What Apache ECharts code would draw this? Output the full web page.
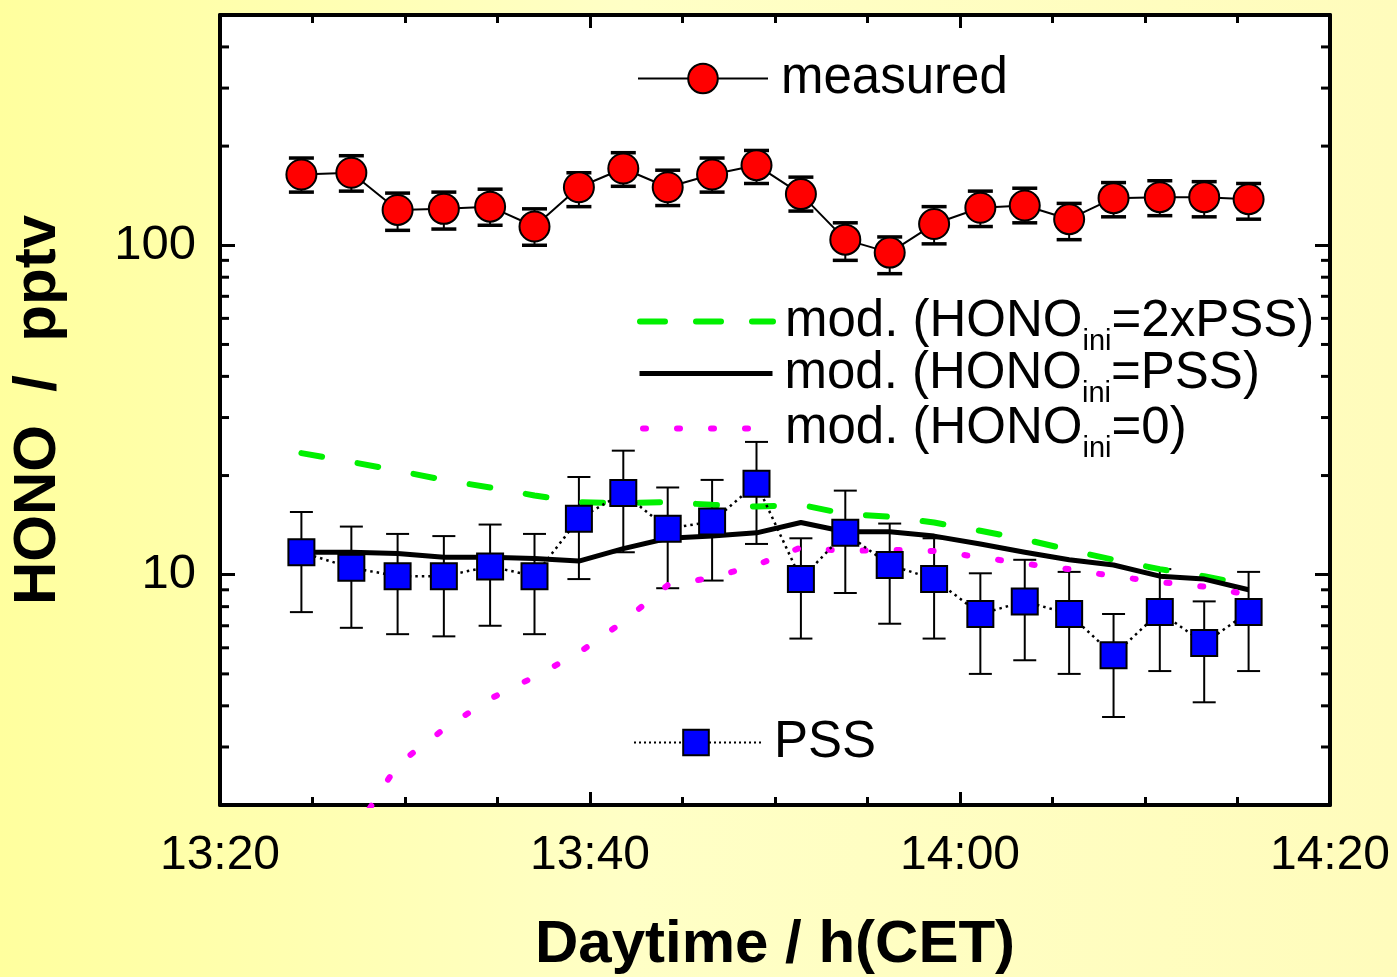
<!DOCTYPE html>
<html>
<head>
<meta charset="utf-8">
<script src="https://cdn.jsdelivr.net/npm/echarts@6/dist/echarts.min.js"></script>
<style>
html,body{margin:0;padding:0;}
#chart{width:1397px;height:977px;}
</style>
</head>
<body>
<div id="chart"></div>
<script>
// Time of each sample, minutes after midnight (800 = 13:20)
const times = [804.4, 807.1, 809.6, 812.1, 814.6, 817.0, 819.4, 821.8, 824.2, 826.6, 829.0,
               831.4, 833.8, 836.2, 838.6, 841.1, 843.5, 845.9, 848.3, 850.8, 853.2, 855.6];

// measured HONO (pptv) with error bar limits
const measured     = [164, 166, 128, 129, 131, 114, 150, 171, 150, 164, 175, 143, 104, 95, 116, 130, 132, 120, 139, 140, 140, 138];
const measuredLow  = [145, 146, 111, 112, 115, 100, 131, 151, 132, 145, 154, 127, 90, 82, 101, 114, 117, 104, 122, 123, 122, 120];
const measuredHigh = [184, 187, 144, 145, 148, 129, 166, 191, 169, 184, 194, 161, 117, 106, 131, 146, 149, 134, 155, 157, 156, 154];

// PSS with error bar limits
const pss     = [11.7, 10.5, 9.9, 9.9, 10.6, 9.9, 14.8, 17.7, 13.8, 14.5, 18.9, 9.7, 13.4, 10.7, 9.7, 7.6, 8.3, 7.6, 5.7, 7.7, 6.2, 7.7];
const pssLow  = [7.7, 6.9, 6.6, 6.5, 7.0, 6.6, 9.7, 11.7, 9.1, 9.6, 12.4, 6.4, 8.8, 7.1, 6.4, 5.0, 5.5, 5.0, 3.7, 5.1, 4.1, 5.1];
const pssHigh = [15.5, 14.0, 13.3, 13.1, 14.2, 13.3, 19.8, 23.8, 18.4, 19.4, 25.3, 12.9, 18.0, 14.3, 12.9, 10.1, 11.1, 10.2, 7.6, 10.4, 8.3, 10.2];

// model runs
const mod2xPSS = [23.4, 22.0, 20.7, 19.4, 18.4, 17.4, 16.6, 16.5, 16.6, 16.3, 16.1, 16.3, 15.3, 15.0, 14.4, 13.6, 12.8, 11.9, 11.1, 10.4, 9.9, 9.3];
const modPSS   = [11.7, 11.7, 11.6, 11.3, 11.3, 11.2, 11.0, 12.0, 12.9, 13.1, 13.4, 14.4, 13.5, 13.5, 13.1, 12.4, 11.7, 11.1, 10.7, 9.9, 9.7, 9.0];
const mod0     = [null, 1.6, 2.65, 3.4, 4.2, 4.9, 5.8, 7.2, 9.3, 9.8, 10.7, 12.1, 11.8, 11.9, 11.8, 11.3, 10.8, 10.4, 9.9, 9.5, 9.2, 8.7];

// axis settings / tick labels
const xMin = 800, xMax = 860, xStep = 20;
const yMin = 2, yMax = 500;
const yLabels = [10, 100];
const yMinorTicks = [3, 4, 5, 6, 7, 8, 9, 20, 30, 40, 50, 60, 70, 80, 90, 200, 300, 400];

const names = {
  measured: 'measured',
  pss: 'PSS',
  m2: 'mod. (HONO_ini=2xPSS)',
  m1: 'mod. (HONO_ini=PSS)',
  m0: 'mod. (HONO_ini=0)'
};
const richLabel = {};
richLabel[names.m2] = '{a|mod. (HONO}{s|ini}{a|=2xPSS)}';
richLabel[names.m1] = '{a|mod. (HONO}{s|ini}{a|=PSS)}';
richLabel[names.m0] = '{a|mod. (HONO}{s|ini}{a|=0)}';

const FONT = "'Liberation Sans', Arial, Helvetica, sans-serif";

const styleGreen   = {color: '#00F000', width: 6, type: [21, 36], cap: 'round'};
const styleBlack   = {color: '#000', width: 5, join: 'round'};
const styleMagenta = {color: '#FF00FF', width: 6, type: [3, 31], cap: 'round'};

function pair(arr) { return times.map((t, i) => [t, arr[i]]); }
function bars(lo, hi) { return times.map((t, i) => [t, lo[i], hi[i]]); }
function fmtTime(v) {
  const h = Math.floor(v / 60), m = Math.round(v - h * 60);
  return h + ':' + (m < 10 ? '0' + m : m);
}

function errRender(capHalf, stemW, capW) {
  return function (params, api) {
    const x = api.value(0);
    const pLo = api.coord([x, api.value(1)]);
    const pHi = api.coord([x, api.value(2)]);
    const st = {stroke: '#000', lineWidth: stemW};
    const ct = {stroke: '#000', lineWidth: capW};
    return {type: 'group', children: [
      {type: 'line', shape: {x1: pLo[0], y1: pLo[1], x2: pHi[0], y2: pHi[1]}, style: st},
      {type: 'line', shape: {x1: pLo[0] - capHalf, y1: pLo[1], x2: pLo[0] + capHalf, y2: pLo[1]}, style: ct},
      {type: 'line', shape: {x1: pHi[0] - capHalf, y1: pHi[1], x2: pHi[0] + capHalf, y2: pHi[1]}, style: ct}
    ]};
  };
}

const axisLineStyle = {show: true, onZero: false, lineStyle: {color: '#000', width: 4}};
const legendBase = {
  selectedMode: false, padding: 0, itemGap: 0, orient: 'horizontal',
  textStyle: {color: '#000', fontFamily: FONT, fontSize: 51, lineHeight: 51, padding: [0, 0, 0, 8]}
};
const richStyles = {
  a: {fontFamily: FONT, fontSize: 51, lineHeight: 60, color: '#000'},
  s: {fontFamily: FONT, fontSize: 29, lineHeight: 29, padding: [40, 0, 0, 0], color: '#000'}
};
function modLegend(name, top, lineStyle) {
  return Object.assign({}, legendBase, {
    data: [name], left: 637, top: top, itemWidth: 133, itemHeight: 20,
    itemStyle: {opacity: 0},
    lineStyle: lineStyle,
    formatter: n => richLabel[n],
    textStyle: {color: '#000', fontFamily: FONT, padding: [0, 0, 0, 7], rich: richStyles}
  });
}

const chart = echarts.init(document.getElementById('chart'), null, {renderer: 'canvas'});
const option = {
  animation: false,
  backgroundColor: {
    type: 'linear', x: 0, y: 0, x2: 1, y2: 0,
    colorStops: [
      {offset: 0, color: '#FFFF9E'},
      {offset: 0.45, color: '#FFFFC6'},
      {offset: 1, color: '#FFFCBC'}
    ]
  },
  textStyle: {fontFamily: FONT},
  grid: {left: 220, right: 67, top: 15, bottom: 172, show: true, backgroundColor: '#fff', borderWidth: 0,
         containLabel: false, outerBoundsMode: 'none'},
  xAxis: [
    {
      type: 'value', min: xMin, max: xMax, interval: xStep, position: 'bottom',
      axisLine: axisLineStyle,
      axisTick: {show: true, inside: true, length: 13, lineStyle: {color: '#000', width: 3}},
      minorTick: {show: true, splitNumber: 4, length: 8, lineStyle: {color: '#000', width: 3}},
      splitLine: {show: false},
      axisLabel: {fontSize: 48, color: '#000', margin: 27, fontFamily: FONT, formatter: fmtTime},
      name: 'Daytime / h(CET)', nameLocation: 'middle', nameGap: 110,
      nameTextStyle: {fontSize: 60, fontWeight: 'bold', color: '#000', fontFamily: FONT}
    },
    {
      type: 'value', min: xMin, max: xMax, interval: xStep, position: 'top',
      axisLine: axisLineStyle,
      axisTick: {show: true, inside: true, length: 13, lineStyle: {color: '#000', width: 3}},
      minorTick: {show: true, splitNumber: 4, length: 8, lineStyle: {color: '#000', width: 3}},
      splitLine: {show: false},
      axisLabel: {show: false}
    }
  ],
  yAxis: [
    {
      type: 'log', logBase: 10, min: yMin, max: yMax, position: 'left',
      axisLine: axisLineStyle,
      axisTick: {show: true, inside: true, length: 15, lineStyle: {color: '#000', width: 3}},
      splitLine: {show: false},
      axisLabel: {
        fontSize: 49, color: '#000', margin: 24, fontFamily: FONT,
        showMinLabel: false, showMaxLabel: false,
        formatter: v => (yLabels.some(l => Math.abs(l - v) < 1e-6) ? String(Math.round(v)) : '')
      },
      name: 'HONO  /  pptv', nameLocation: 'middle', nameGap: 152,
      nameTextStyle: {fontSize: 60, fontWeight: 'bold', color: '#000', fontFamily: FONT}
    },
    {
      type: 'log', logBase: 10, min: yMin, max: yMax, position: 'right',
      axisLine: axisLineStyle,
      axisTick: {show: true, inside: true, length: 15, lineStyle: {color: '#000', width: 3}},
      splitLine: {show: false},
      axisLabel: {show: false}
    }
  ],
  legend: [
    Object.assign({}, legendBase, {data: [names.measured], left: 637, top: 53, itemWidth: 130, itemHeight: 37,
      lineStyle: {color: '#000', width: 2}}),
    modLegend(names.m2, 287, {color: '#00F000', width: 6, type: [25, 31], cap: 'round'}),
    modLegend(names.m1, 339, {color: '#000', width: 5}),
    modLegend(names.m0, 394, {color: '#FF00FF', width: 6, type: [3, 31], cap: 'round', dashOffset: -3}),
    Object.assign({}, legendBase, {data: [names.pss], left: 630, top: 717, itemWidth: 130, itemHeight: 32,
      lineStyle: {color: '#000', width: 2, type: [2, 3]}})
  ],
  series: [
    {
      type: 'custom', name: 'measured err', xAxisIndex: 0, yAxisIndex: 0, z: 1,
      renderItem: errRender(12.5, 2, 3.5), encode: {x: 0, y: [1, 2]},
      data: bars(measuredLow, measuredHigh), silent: true
    },
    {
      type: 'custom', name: 'pss err', xAxisIndex: 0, yAxisIndex: 0, z: 1,
      renderItem: errRender(11.5, 2, 2), encode: {x: 0, y: [1, 2]},
      data: bars(pssLow, pssHigh), silent: true
    },
    {
      type: 'line', name: names.m2, data: pair(mod2xPSS), z: 2,
      symbol: 'none', showSymbol: false,
      lineStyle: styleGreen, itemStyle: {color: '#00F000'}
    },
    {
      type: 'line', name: names.m1, data: pair(modPSS), z: 2,
      symbol: 'none', showSymbol: false,
      lineStyle: styleBlack, itemStyle: {color: '#000'}
    },
    {
      type: 'line', name: names.m0, data: pair(mod0), z: 2,
      symbol: 'none', showSymbol: false,
      lineStyle: styleMagenta, itemStyle: {color: '#FF00FF'}
    },
    {
      type: 'line', name: names.pss, data: pair(pss), z: 3,
      symbol: 'rect', symbolSize: 26,
      lineStyle: {color: '#000', width: 2.5, type: [2.5, 4]},
      itemStyle: {color: '#0000FF', borderColor: '#000', borderWidth: 2}
    },
    {
      type: 'line', name: names.measured, data: pair(measured), z: 3,
      symbol: 'circle', symbolSize: 30,
      lineStyle: {color: '#000', width: 2},
      itemStyle: {color: '#FF0000', borderColor: '#000', borderWidth: 2}
    },
    {
      type: 'custom', name: 'minor ticks', xAxisIndex: 0, yAxisIndex: 0, z: 5, clip: false, silent: true,
      encode: {x: 0, y: 1},
      data: yMinorTicks.map(v => [xMin, v]),
      renderItem: function (params, api) {
        const p = api.coord([api.value(0), api.value(1)]);
        const cs = params.coordSys;
        const L = 9;
        const st = {stroke: '#000', lineWidth: 3};
        return {type: 'group', children: [
          {type: 'line', shape: {x1: cs.x, y1: p[1], x2: cs.x + L, y2: p[1]}, style: st},
          {type: 'line', shape: {x1: cs.x + cs.width - L, y1: p[1], x2: cs.x + cs.width, y2: p[1]}, style: st}
        ]};
      }
    }
  ]
};
chart.setOption(option);
</script>
</body>
</html>
